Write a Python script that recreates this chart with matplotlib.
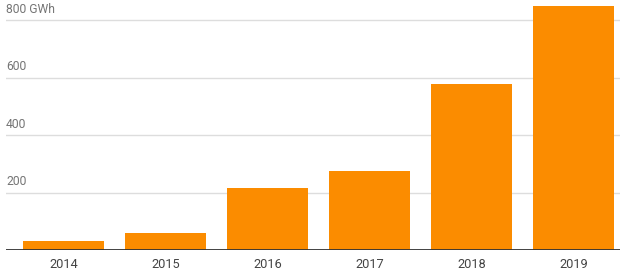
import matplotlib
matplotlib.use('Agg')
import matplotlib.pyplot as plt

years = ['2014', '2015', '2016', '2017', '2018', '2019']
energy_gwh = [31, 59, 216, 275, 577, 849]
grid_values = [200, 400, 600, 800]
grid_labels = ['200', '400', '600', '800 GWh']

plt.rcParams['font.family'] = ['Roboto', 'DejaVu Sans']

fig = plt.figure(figsize=(6.25, 2.73), dpi=100)
ax = fig.add_axes([6 / 625, 23 / 273, 614 / 625, 250 / 273])

x = range(len(years))
ax.bar(x, energy_gwh, width=0.79, color='#fb8c00', zorder=2)

ax.set_xlim(-0.564, 5.456)
ax.set_ylim(0, 869.6)

# gridlines with labels sitting on top of them
for v, lab in zip(grid_values, grid_labels):
    ax.axhline(v, color='#dddddd', linewidth=1, zorder=1)
    ax.text(0, v + 14, lab, transform=ax.get_yaxis_transform(),
            ha='left', va='bottom', fontsize=8.7, color='#757575')

ax.axhline(0, color='#333333', linewidth=1.3, zorder=3)

ax.set_xticks(list(x))
ax.set_xticklabels(years, fontsize=9.2, color='#444444')
ax.tick_params(axis='x', length=0, pad=6)
ax.set_yticks([])
for s in ax.spines.values():
    s.set_visible(False)

fig.savefig('out.png', dpi=100)
